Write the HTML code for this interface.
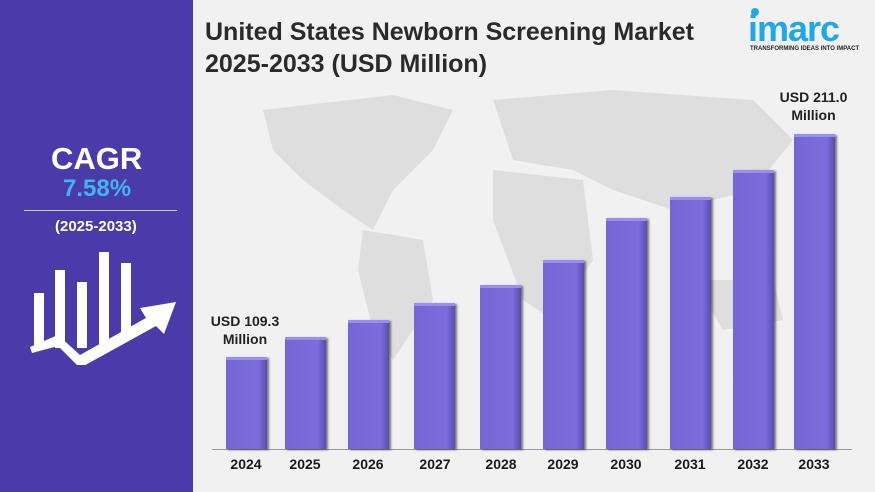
<!DOCTYPE html>
<html><head><meta charset="utf-8"><style>
body{margin:0;width:875px;height:492px;overflow:hidden;background:#f1f1f1;font-family:"Liberation Sans",Arial,sans-serif;position:relative}
.left{position:absolute;left:0;top:0;width:193px;height:492px;background:#4b3aa9}
.t{position:absolute;font-weight:bold}
.bar{position:absolute;width:41px;background:linear-gradient(90deg,#7566d6,#7b6ddb 80%,#5a4bb0);border-top:3px solid #9a8ef0;box-shadow:2px 1px 2px rgba(0,0,0,.5);box-sizing:border-box}
.yr{position:absolute;top:456px;width:60px;text-align:center;font-weight:bold;font-size:14px;color:#1a1a1a}
</style></head><body>
<svg style="position:absolute;left:193px;top:0" width="682" height="492">
<g fill="#dedede">
<path d="M70 110 L200 95 L260 110 L240 150 L200 190 L180 230 L150 210 L110 180 L80 150Z"/>
<path d="M170 230 L230 240 L240 300 L200 360 L180 330 L165 270Z"/>
<path d="M300 100 L420 90 L560 100 L600 140 L560 190 L480 210 L420 190 L380 170 L320 160Z"/>
<path d="M300 170 L390 180 L400 260 L360 320 L330 300 L300 220Z"/>
<path d="M500 280 L580 280 L590 320 L530 330Z"/>
</g></svg>
<div class="left"></div>
<div class="t" style="left:51px;top:141px;font-size:31px;color:#fff">CAGR</div>
<div class="t" style="left:63px;top:175px;font-size:24px;color:#3fb6f0">7.58%</div>
<div style="position:absolute;left:24px;top:210px;width:153px;height:1px;background:#cfcaf0"></div>
<div class="t" style="left:55px;top:218px;font-size:15px;color:#fff">(2025-2033)</div>
<svg style="position:absolute;left:28px;top:250px" width="155" height="115">
<g fill="#fff"><rect x="6" y="43" width="10" height="55"/><rect x="27" y="20" width="10" height="78"/><rect x="49" y="32" width="10" height="66"/><rect x="71" y="2" width="10" height="92"/><rect x="93" y="13" width="10" height="72"/>
<path d="M2 97 L30 85 L52 105 L118 68 L112 58 L148 52 L136 84 L128 76 L52 118 L30 96 L4 103Z"/></g></svg>
<div class="t" style="left:205px;top:16px;font-size:25px;color:#2a2a2a;line-height:32px">United States Newborn Screening Market<br>2025-2033 (USD Million)</div>
<div style="position:absolute;left:751px;top:8px;width:8px;height:8px;border-radius:50%;background:#1ea8e8"></div>
<div class="t" style="left:748px;top:8px;font-size:36px;color:#1ea8e8;letter-spacing:-1px">imarc</div>
<div class="t" style="left:750px;top:46px;font-size:6px;color:#222">TRANSFORMING IDEAS INTO IMPACT</div>
<div style="position:absolute;left:212px;top:449px;width:640px;height:1px;background:#999"></div>
<div class="bar" style="left:226px;top:357px;height:92px"></div>
<div class="bar" style="left:285px;top:337px;height:112px"></div>
<div class="bar" style="left:348px;top:320px;height:129px"></div>
<div class="bar" style="left:414px;top:303px;height:146px"></div>
<div class="bar" style="left:480px;top:285px;height:164px"></div>
<div class="bar" style="left:543px;top:260px;height:189px"></div>
<div class="bar" style="left:606px;top:218px;height:231px"></div>
<div class="bar" style="left:670px;top:197px;height:252px"></div>
<div class="bar" style="left:733px;top:170px;height:279px"></div>
<div class="bar" style="left:794px;top:134px;height:315px"></div>
<div class="yr" style="left:216px">2024</div><div class="yr" style="left:275px">2025</div><div class="yr" style="left:338px">2026</div><div class="yr" style="left:405px">2027</div><div class="yr" style="left:471px">2028</div><div class="yr" style="left:533px">2029</div><div class="yr" style="left:596px">2030</div><div class="yr" style="left:660px">2031</div><div class="yr" style="left:723px">2032</div><div class="yr" style="left:784px">2033</div>
<div class="t" style="left:205px;top:312px;width:80px;text-align:center;font-size:14px;color:#222;line-height:18px">USD 109.3<br>Million</div>
<div class="t" style="left:771px;top:88px;width:85px;text-align:center;font-size:14px;color:#222;line-height:18px">USD 211.0<br>Million</div>
</body></html>
